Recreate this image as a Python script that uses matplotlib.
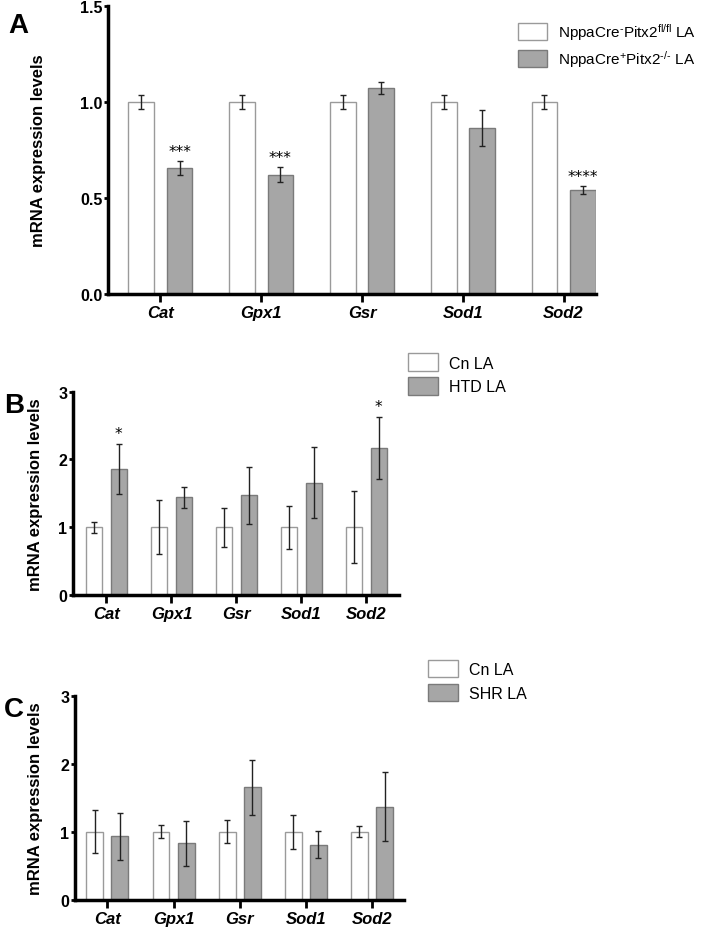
import matplotlib
matplotlib.use("Agg")
import matplotlib.pyplot as plt
import numpy as np
from matplotlib.patches import Patch

plt.rcParams['font.family'] = ['Liberation Sans', 'DejaVu Sans']
plt.rcParams['mathtext.fontset'] = 'custom'
plt.rcParams['mathtext.rm'] = 'Liberation Sans'
plt.rcParams['mathtext.it'] = 'Liberation Sans:italic'

genes = ['Cat', 'Gpx1', 'Gsr', 'Sod1', 'Sod2']

# Panel A
a_ctrl = [1.0, 1.0, 1.0, 1.0, 1.0]
a_ctrl_err = [0.038, 0.038, 0.038, 0.038, 0.038]
a_ko = [0.657, 0.621, 1.073, 0.865, 0.543]
a_ko_err = [0.037, 0.039, 0.030, 0.094, 0.021]
a_stars = ['***', '***', '', '', '****']
a_labels = ['NppaCre$^{\\mathrm{\u2010}}$Pitx2$^{\\mathrm{fl/fl}}$ LA',
            'NppaCre$^{\\mathrm{+}}$Pitx2$^{\\mathrm{\u2010/\u2010}}$ LA']

# Panel B
b_ctrl = [1.0, 1.0, 1.0, 1.0, 1.0]
b_ctrl_err = [0.08, 0.40, 0.29, 0.315, 0.53]
b_htd = [1.86, 1.44, 1.47, 1.66, 2.17]
b_htd_err = [0.375, 0.16, 0.425, 0.525, 0.46]
b_stars = ['*', '', '', '', '*']
b_labels = ['Cn LA', 'HTD LA']

# Panel C
c_ctrl = [1.0, 1.0, 1.0, 1.0, 1.0]
c_ctrl_err = [0.32, 0.10, 0.17, 0.25, 0.08]
c_shr = [0.93, 0.83, 1.65, 0.81, 1.37]
c_shr_err = [0.34, 0.33, 0.41, 0.20, 0.51]
c_stars = ['', '', '', '', '']
c_labels = ['Cn LA', 'SHR LA']

WHITE_EDGE = '#9a9a9a'
GRAY_FILL = '#a6a6a6'
GRAY_EDGE = '#7a7a7a'

fig = plt.figure(figsize=(7.07, 9.28), dpi=100)


def panel(rect, ctrl, ctrl_err, trt, trt_err, stars, labels, ymax, yticks, yfmt,
          xlim, letter, letter_pos, leg_pos, star_off, ylab_x, leg_fs):
    ax = fig.add_axes(rect)
    x = np.arange(len(genes))
    w = 0.255
    off = 0.19
    ekw = dict(elinewidth=1.0, capthick=1.0, ecolor='#222222')
    ax.bar(x - off, ctrl, w, color='white', edgecolor=WHITE_EDGE, linewidth=1.0,
           yerr=ctrl_err, capsize=2.5, error_kw=ekw, zorder=2)
    ax.bar(x + off, trt, w, color=GRAY_FILL, edgecolor=GRAY_EDGE, linewidth=1.0,
           yerr=trt_err, capsize=2.5, error_kw=ekw, zorder=2)
    for i, s in enumerate(stars):
        if s:
            ax.text(x[i] + off, trt[i] + trt_err[i] + star_off, s, ha='center',
                    va='bottom', fontsize=11, family='DejaVu Sans')
    ax.set_xlim(*xlim)
    ax.set_ylim(0, ymax)
    ax.set_yticks(yticks)
    ax.set_yticklabels([yfmt.format(t) for t in yticks], fontweight='bold', fontsize=11.5)
    ax.set_xticks(x)
    ax.set_xticklabels(genes, fontstyle='italic', fontweight='bold', fontsize=12)
    for s in ['top', 'right']:
        ax.spines[s].set_visible(False)
    for s in ['left', 'bottom']:
        ax.spines[s].set_linewidth(2.5)
    ax.tick_params(axis='x', length=6, width=2, pad=2)
    ax.tick_params(axis='y', length=3, width=2, pad=1)
    ax.set_ylabel('mRNA expression levels', fontweight='bold', fontsize=12)
    ax.yaxis.set_label_coords(ylab_x, 0.5)
    fig.text(letter_pos[0], letter_pos[1], letter, fontsize=20, fontweight='bold',
             ha='left', va='center')
    handles = [Patch(facecolor='white', edgecolor=WHITE_EDGE, label=labels[0]),
               Patch(facecolor=GRAY_FILL, edgecolor=GRAY_EDGE, label=labels[1])]
    ax.legend(handles=handles, loc='upper left', bbox_to_anchor=leg_pos,
              bbox_transform=fig.transFigure, frameon=False, fontsize=leg_fs,
              handlelength=1.9, handleheight=1.3, handletextpad=0.7,
              labelspacing=0.4, borderpad=0, borderaxespad=0)
    return ax


axA = panel([0.1528, 0.682, 0.690, 0.3105], a_ctrl, a_ctrl_err, a_ko, a_ko_err,
            a_stars, a_labels, 1.5, [0.0, 0.5, 1.0, 1.5], '{:.1f}', (-0.52, 4.32),
            'A', (0.012, 0.972), (0.733, 0.976), 0.01, -0.128, 11)

axB = panel([0.1028, 0.3578, 0.4615, 0.219], b_ctrl, b_ctrl_err, b_htd, b_htd_err,
            b_stars, b_labels, 3, [0, 1, 2, 3], '{:d}', (-0.52, 4.50),
            'B', (0.006, 0.563), (0.577, 0.618), 0.04, -0.092, 11.5)

axC = panel([0.106, 0.0294, 0.465, 0.2199], c_ctrl, c_ctrl_err, c_shr, c_shr_err,
            c_stars, c_labels, 3, [0, 1, 2, 3], '{:d}', (-0.49, 4.48),
            'C', (0.006, 0.235), (0.605, 0.288), 0.04, -0.097, 11.5)

fig.savefig('out.png', dpi=100)
